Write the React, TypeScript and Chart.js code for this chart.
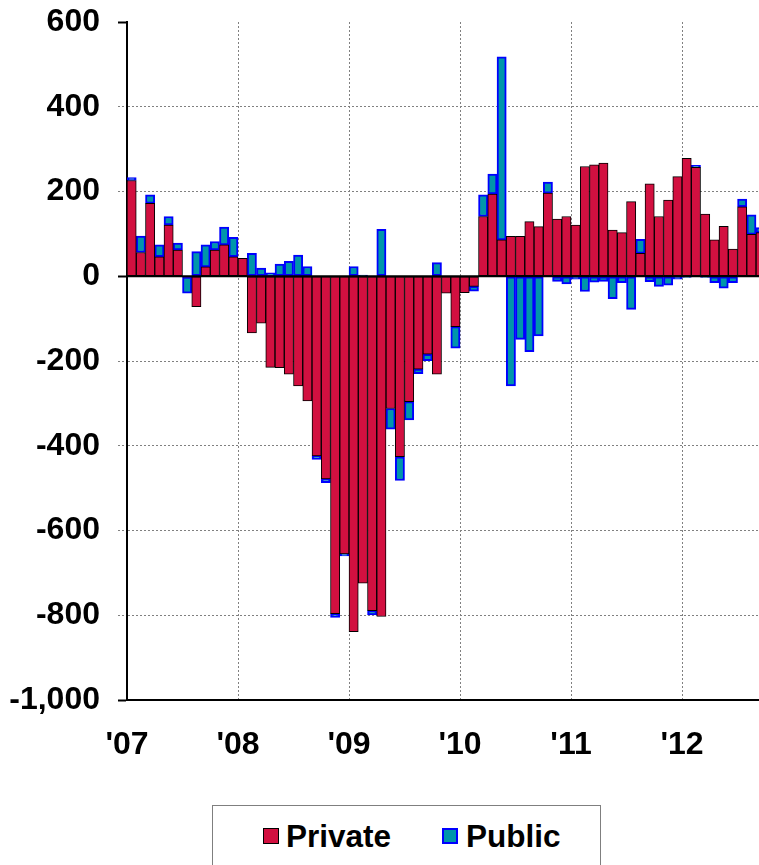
import React, { useEffect, useRef } from 'react';
import { Chart, registerables } from 'chart.js';

Chart.register(...registerables);

// Monthly change, thousands of jobs, Jan 2007 .. Sep 2012
const yearLabels = ["'07", "'08", "'09", "'10", "'11", "'12"];

const privateJobs = [
  226, 56, 172, 46, 121, 62, -2, -72, 22, 62, 74, 46,
  42, -134, -111, -215, -216, -231, -259, -294, -424, -478, -796, -655,
  -839, -724, -789, -803, -312, -426, -296, -219, -184, -231, -40, -119,
  -39, -24, 141, 194, 86, 94, 94, 129, 117, 196, 135, 141,
  121, 259, 263, 267, 109, 103, 176, 54, 218, 141, 180, 235,
  278, 257, 147, 86, 118, 64, 164, 99, 103,
];

const publicJobs = [
  7, 39, 20, 28, 20, 16, -38, 58, 52, 20, 42, 46,
  0, 54, 19, 8, 29, 35, 50, 23, -8, -9, -9, -5,
  23, 3, -10, 111, -49, -56, -43, -11, -15, 32, 0, -51,
  0, -11, 51, 47, 432, -259, -149, -178, -141, 26, -12, -18,
  -7, -36, -14, -12, -53, -15, -78, 33, -13, -24, -21, -7,
  -3, 5, -3, -15, -28, -15, 18, 46, 12,
];

const yMin = -1000;
const yMax = 600;
const yStep = 200;
const xVisibleMonths = 68.32;

const RED = '#D21040';
const TEAL = '#0096AA';
const BLUE = '#0000FF';
const GRID = '#808080';
const FONT = "'Liberation Sans', Arial, Helvetica, sans-serif";

const fmt = (v: number) =>
  (v < 0 ? '-' : '') + Math.abs(v).toString().replace(/\B(?=(\d{3})+(?!\d))/g, ',');

export default function App() {
  const ref = useRef<HTMLCanvasElement>(null);

  useEffect(() => {
    const canvas = ref.current;
    if (!canvas) return;

    const zeroLine = {
      id: 'zeroLine',
      afterDatasetsDraw(chart: any) {
        const { ctx, chartArea, scales } = chart;
        const py = scales.y.getPixelForValue(0);
        ctx.save();
        ctx.strokeStyle = '#000';
        ctx.lineWidth = 2;
        ctx.beginPath();
        ctx.moveTo(chartArea.left, py);
        ctx.lineTo(chartArea.right, py);
        ctx.stroke();
        ctx.restore();
      },
    };

    const special = (v: number) => v === 0 || v === yMax || v === yMin;

    const chart = new Chart(canvas, {
      type: 'bar',
      data: {
        datasets: [
          {
            label: 'Private',
            data: privateJobs.map((v, i) => ({ x: i + 0.5, y: v })),
            backgroundColor: RED,
            borderColor: '#000',
            borderWidth: 1,
            borderSkipped: false,
            categoryPercentage: 1,
            barPercentage: 1,
          },
          {
            label: 'Public',
            data: publicJobs.map((v, i) => ({ x: i + 0.5, y: v })),
            backgroundColor: TEAL,
            borderColor: BLUE,
            borderWidth: 2,
            borderSkipped: false,
            categoryPercentage: 1,
            barPercentage: 1,
          },
        ],
      } as any,
      options: {
        responsive: false,
        animation: false,
        layout: { padding: { top: 22, left: 0, right: 0, bottom: 0 } },
        plugins: {
          legend: { display: false },
          tooltip: { enabled: false },
        },
        scales: {
          x: {
            type: 'linear',
            stacked: true,
            offset: false,
            min: 0,
            max: xVisibleMonths,
            afterBuildTicks: (scale: any) => {
              scale.ticks = yearLabels.map((_, i) => ({ value: i * 12 }));
            },
            afterFit: (scale: any) => {
              scale.height = 80;
              scale.paddingLeft = 0;
              scale.paddingRight = 0;
            },
            ticks: {
              autoSkip: false,
              maxRotation: 0,
              padding: 26,
              color: '#000',
              font: { family: FONT, size: 32, weight: 'bold' },
              callback: (_v: any, i: number) => yearLabels[i],
            },
            grid: {
              offset: false,
              drawTicks: false,
              lineWidth: 1,
              color: (ctx: any) => (ctx.tick && ctx.tick.value === 0 ? 'rgba(0,0,0,0)' : GRID),
            },
            border: { display: true, color: '#000', width: 2, dash: [2, 2] },
          },
          y: {
            stacked: true,
            min: yMin,
            max: yMax,
            afterFit: (scale: any) => {
              scale.width = 127;
              scale.paddingTop = 0;
              scale.paddingBottom = 0;
            },
            ticks: {
              stepSize: yStep,
              padding: 18,
              color: '#000',
              font: { family: FONT, size: 32, weight: 'bold' },
              callback: (v: any) => fmt(Number(v)),
            },
            grid: {
              drawTicks: true,
              tickLength: 9,
              lineWidth: 1,
              color: (ctx: any) => (ctx.tick && special(ctx.tick.value) ? 'rgba(0,0,0,0)' : GRID),
              tickColor: (ctx: any) => (ctx.tick && special(ctx.tick.value) ? '#000' : GRID),
              tickWidth: (ctx: any) => (ctx.tick && special(ctx.tick.value) ? 2 : 1),
              tickBorderDash: (ctx: any) => (ctx.tick && special(ctx.tick.value) ? [] : [2, 2]),
            },
            border: { display: true, color: '#000', width: 2, dash: [2, 2] },
          },
        },
      } as any,
      plugins: [zeroLine],
    });

    return () => chart.destroy();
  }, []);

  const textStyle: React.CSSProperties = {
    position: 'absolute',
    top: 821,
    font: `bold 31.5px ${FONT}`,
    lineHeight: '31px',
    color: '#000',
    whiteSpace: 'nowrap',
  };

  return (
    <div
      style={{
        position: 'absolute',
        left: 0,
        top: 0,
        width: 759,
        height: 865,
        overflow: 'hidden',
        background: '#fff',
      }}
    >
      <canvas ref={ref} width={759} height={780} style={{ display: 'block' }} />
      <div
        style={{
          position: 'absolute',
          left: 212,
          top: 805,
          width: 389,
          height: 100,
          border: '1px solid #7f7f7f',
          boxSizing: 'border-box',
        }}
      />
      <div
        style={{
          position: 'absolute',
          left: 263,
          top: 828,
          width: 16,
          height: 16,
          background: RED,
          border: '1px solid #000',
          boxSizing: 'border-box',
        }}
      />
      <div style={{ ...textStyle, left: 286 }}>Private</div>
      <div
        style={{
          position: 'absolute',
          left: 442,
          top: 828,
          width: 16,
          height: 16,
          background: TEAL,
          border: `2px solid ${BLUE}`,
          boxSizing: 'border-box',
        }}
      />
      <div style={{ ...textStyle, left: 466 }}>Public</div>
    </div>
  );
}
